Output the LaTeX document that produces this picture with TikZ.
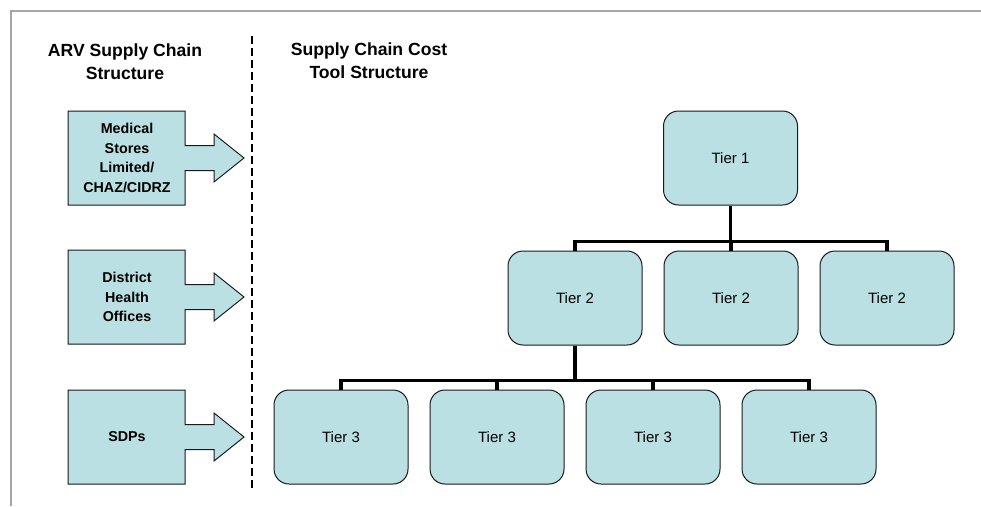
\documentclass[tikz,border=0pt]{standalone}
\usepackage{fontspec}
\setmainfont{Liberation Sans}
\definecolor{tierfill}{HTML}{BBE0E3}
\definecolor{framegray}{HTML}{A6A6A6}
\begin{document}
\begin{tikzpicture}[x=1pt,y=-1pt,
  tierbox/.style={draw=black!90, line width=1pt, fill=tierfill, rounded corners=15pt,
    minimum width=134pt, minimum height=94pt, inner sep=0pt,
    font=\fontsize{15}{17}\selectfont},
  conn/.style={line width=3.3pt, line join=miter},
  heading/.style={align=center, font=\bfseries\fontsize{17.6}{23}\selectfont, inner sep=0pt},
  sidelabel/.style={align=center, font=\bfseries\fontsize{14.3}{19.5}\selectfont, inner sep=0pt},
  sidearrow/.style={draw=black!90, line width=1pt, fill=tierfill}
]
\useasboundingbox (0,0) rectangle (981,506);

% page frame
\draw[framegray, line width=1.4pt] (11,506) -- (11,11) -- (981,11);

% dividing line
\coordinate (divtop) at (252,36);
\coordinate (divbot) at (252,490);
\draw[line width=2pt, dash pattern=on 7.5pt off 4.5pt] (divtop) -- (divbot);

% headings
\node[heading] (hleft) at (125,62) {ARV Supply Chain\\Structure};
\node[heading] (hright) at (369,61) {Supply Chain Cost\\Tool Structure};

% block arrows of the supply chain levels
\foreach \cy in {158,297,437}{
  \draw[sidearrow] (68,\cy-47) -- (185,\cy-47) -- (185,\cy-12.5) -- (214,\cy-12.5)
    -- (214,\cy-24) -- (244,\cy) -- (214,\cy+24) -- (214,\cy+12.5) -- (185,\cy+12.5)
    -- (185,\cy+47) -- (68,\cy+47) -- cycle;
}
\node[sidelabel] (msl) at (127,158) {Medical\\Stores\\Limited/\\CHAZ/CIDRZ};
\node[sidelabel] (dho) at (127,297) {District\\Health\\Offices};
\node[sidelabel] (sdp) at (127,437) {SDPs};

% tier boxes
\node[tierbox] (t1)  at (730.5,158) {Tier 1};
\node[tierbox] (t2a) at (575,298) {Tier 2};
\node[tierbox] (t2b) at (731,298) {Tier 2};
\node[tierbox] (t2c) at (887,298) {Tier 2};
\node[tierbox] (t3a) at (341,437) {Tier 3};
\node[tierbox] (t3b) at (497,437) {Tier 3};
\node[tierbox] (t3c) at (653,437) {Tier 3};
\node[tierbox] (t3d) at (809,437) {Tier 3};

% connectors
\coordinate (busA) at (0,241.5);
\coordinate (busB) at (0,380.5);
\draw[conn] (t1.south) -- (t1.south |- busA);
\draw[conn] (t2a.north) -- (t2a.north |- busA) -- (t2c.north |- busA) -- (t2c.north);
\draw[conn] (t2b.north) -- (t2b.north |- busA);
\draw[conn] (t2a.south) -- (t2a.south |- busB);
\draw[conn] (t3a.north) -- (t3a.north |- busB) -- (t3d.north |- busB) -- (t3d.north);
\draw[conn] (t3b.north) -- (t3b.north |- busB);
\draw[conn] (t3c.north) -- (t3c.north |- busB);
\end{tikzpicture}
\end{document}
